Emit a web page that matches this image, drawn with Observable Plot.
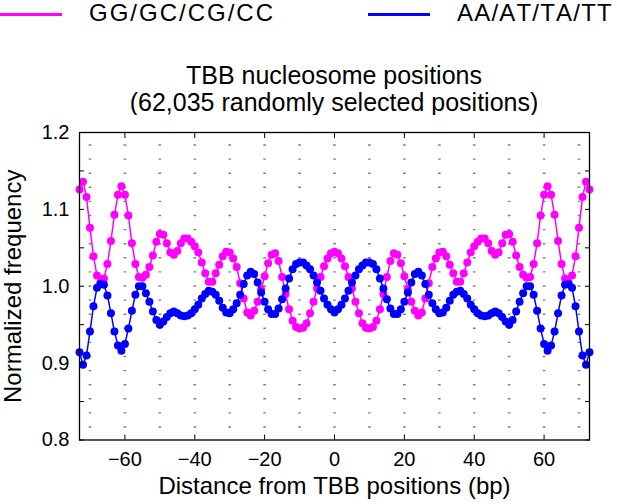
<!DOCTYPE html>
<html><head><meta charset="utf-8">
<script src="https://cdn.jsdelivr.net/npm/d3@7"></script>
<script src="https://cdn.jsdelivr.net/npm/@observablehq/plot@0.6"></script>
<style>
body{margin:0;background:#fff;}
#wrap{position:relative;width:617px;height:504px;overflow:hidden;font-family:"Liberation Sans",Arial,Helvetica,sans-serif;color:#000;font-kerning:none;}
#wrap svg text{font-kerning:none;}
.leg-line{position:absolute;height:3px;top:12.5px;}
.leg-text{position:absolute;top:1px;font-size:24px;line-height:24px;white-space:nowrap;}
#title{position:absolute;left:79px;width:510px;top:62px;text-align:center;font-size:25px;line-height:27.4px;}
#chart{position:absolute;left:0;top:115px;}
</style></head><body>
<div id="wrap"><div id="legend"></div><div id="title"></div><div id="chart"></div></div>
<script>
const seriesNames = ["GG/GC/CG/CC", "AA/AT/TA/TT"];
const seriesColors = ["#ff00ff", "#0000ff"];
const titleLines = ["TBB nucleosome positions", "(62,035 randomly selected positions)"];
const xLabel = "Distance from TBB positions (bp)";
const yLabel = "Normalized frequency";

const positions = d3.range(-73, 74);
const ggValues = [
1.126,1.136,1.116,1.076,1.039,1.014,1.005,1.010,1.029,1.059,
1.093,1.119,1.130,1.119,1.092,1.056,1.029,1.012,1.011,1.015,
1.025,1.040,1.058,1.068,1.067,1.056,1.044,1.041,1.046,1.056,
1.062,1.062,1.058,1.052,1.044,1.031,1.017,1.006,1.006,1.017,
1.028,1.039,1.045,1.044,1.036,1.025,1.004,0.984,0.966,0.962,
0.968,0.980,0.996,1.013,1.030,1.041,1.043,1.033,1.012,0.990,
0.970,0.955,0.947,0.945,0.946,0.952,0.965,0.980,0.997,1.012,
1.026,1.036,1.043,1.045,
1.043,1.036,1.026,1.012,0.997,0.980,0.965,0.952,0.946,0.945,
0.947,0.955,0.970,0.990,1.012,1.033,1.043,1.041,1.030,1.013,
0.996,0.980,0.968,0.962,0.966,0.984,1.004,1.025,1.036,1.044,
1.045,1.039,1.028,1.017,1.006,1.006,1.017,1.031,1.044,1.052,
1.058,1.062,1.062,1.056,1.046,1.041,1.044,1.056,1.067,1.068,
1.058,1.040,1.025,1.015,1.011,1.012,1.029,1.056,1.092,1.119,
1.130,1.119,1.093,1.059,1.029,1.010,1.005,1.014,1.039,1.076,
1.116,1.136,1.126];
const aaValues = [
0.914,0.898,0.910,0.941,0.974,0.998,1.003,1.002,0.988,0.965,
0.941,0.923,0.916,0.925,0.945,0.968,0.989,1.000,1.000,0.991,
0.980,0.967,0.956,0.950,0.954,0.960,0.965,0.967,0.965,0.962,
0.961,0.962,0.965,0.970,0.976,0.984,0.990,0.994,0.993,0.989,
0.981,0.972,0.966,0.965,0.970,0.978,0.989,1.003,1.014,1.019,
1.016,1.005,0.992,0.980,0.970,0.964,0.964,0.971,0.983,0.997,
1.010,1.022,1.029,1.031,1.031,1.027,1.022,1.014,1.005,0.994,
0.984,0.976,0.970,0.966,
0.970,0.976,0.984,0.994,1.005,1.014,1.022,1.027,1.031,1.031,
1.029,1.022,1.010,0.997,0.983,0.971,0.964,0.964,0.970,0.980,
0.992,1.005,1.016,1.019,1.014,1.003,0.989,0.978,0.970,0.965,
0.966,0.972,0.981,0.989,0.993,0.994,0.990,0.984,0.976,0.970,
0.965,0.962,0.961,0.962,0.965,0.967,0.965,0.960,0.954,0.950,
0.956,0.967,0.980,0.991,1.000,1.000,0.989,0.968,0.945,0.925,
0.916,0.923,0.941,0.965,0.988,1.002,1.003,0.998,0.974,0.941,
0.910,0.898,0.914];

const xDomain = [-73, 73];
const yDomain = [0.8, 1.2];
const xTicks = [-60, -40, -20, 0, 20, 40, 60];
const xTickLabels = ["\u221260", "\u221240", "\u221220", "0", "20", "40", "60"];
const xGrid = [-70, -60, -50, -40, -30, -20, -10, 0, 10, 20, 30, 40, 50, 60, 70];
const yTicks = [0.8, 0.9, 1.0, 1.1, 1.2];
const yTickLabels = ["0.8", "0.9", "1.0", "1.1", "1.2"];
const yMinorTicks = [0.8, 0.85, 0.9, 0.95, 1.0, 1.05, 1.1, 1.15, 1.2];

// legend (HTML above the chart)
const legend = document.getElementById("legend");
const legLineLeft = [0, 368], legTextLeft = [89, 457], legSpacing = [2, 1.2];
seriesNames.forEach((name, i) => {
  const l = document.createElement("div");
  l.className = "leg-line";
  l.style.left = legLineLeft[i] + "px"; l.style.width = "62px"; l.style.background = seriesColors[i];
  legend.appendChild(l);
  const t = document.createElement("div");
  t.className = "leg-text"; t.style.left = legTextLeft[i] + "px";
  t.style.letterSpacing = legSpacing[i] + "px"; t.textContent = name;
  legend.appendChild(t);
});
document.getElementById("title").innerHTML = titleLines.map(s => `<div>${s}</div>`).join("");

const ggRows = positions.map((p, i) => ({x: p, y: ggValues[i], s: seriesNames[0]}));
const aaRows = positions.map((p, i) => ({x: p, y: aaValues[i], s: seriesNames[1]}));

const chart = Plot.plot({
  width: 617, height: 389,
  marginLeft: 79, marginRight: 28, marginTop: 17, marginBottom: 64.5,
  style: {fontFamily: "Liberation Sans, Arial, Helvetica, sans-serif", color: "#000", background: "#fff"},
  x: {domain: xDomain, axis: null},
  y: {domain: yDomain, axis: null},
  marks: [
    Plot.ruleX(xGrid, {stroke: "#808080", strokeWidth: 2.7, strokeDasharray: "1.4,12.7", strokeDashoffset: 1.8}),
    Plot.line(ggRows, {x: "x", y: "y", stroke: seriesColors[0], strokeWidth: 1.5}),
    Plot.dot(ggRows, {x: "x", y: "y", r: 4, fill: seriesColors[0], stroke: null}),
    Plot.line(aaRows, {x: "x", y: "y", stroke: seriesColors[1], strokeWidth: 1.5}),
    Plot.dot(aaRows, {x: "x", y: "y", r: 4, fill: seriesColors[1], stroke: null}),
    Plot.frame({stroke: "#000", strokeWidth: 1.3}),
    Plot.axisX(xTicks, {anchor: "bottom", tickSize: -5, tickFormat: () => "", label: null}),
    Plot.axisX(xTicks, {anchor: "top", tickSize: -5, tickFormat: () => "", label: null}),
    Plot.axisX(xTicks, {anchor: "bottom", tickSize: 0, tickPadding: 12, fontSize: 20, tickFormat: d => xTickLabels[xTicks.indexOf(d)], label: null}),
    Plot.axisY(yMinorTicks, {anchor: "left", tickSize: -5, tickFormat: () => "", label: null}),
    Plot.axisY(yMinorTicks, {anchor: "right", tickSize: -5, tickFormat: () => "", label: null}),
    Plot.axisY(yTicks, {anchor: "left", tickSize: 0, tickPadding: 10, fontSize: 20, tickFormat: d => yTickLabels[yTicks.indexOf(d)], label: null}),
    Plot.text([yLabel], {text: d => d, frameAnchor: "left", textAnchor: "middle", lineAnchor: "middle", dx: -66, rotate: -90, fontSize: 24}),
    Plot.text([xLabel], {text: d => d, frameAnchor: "bottom", textAnchor: "middle", lineAnchor: "middle", dy: 46, fontSize: 24})
  ]
});
document.getElementById("chart").appendChild(chart);
</script>
</body></html>
